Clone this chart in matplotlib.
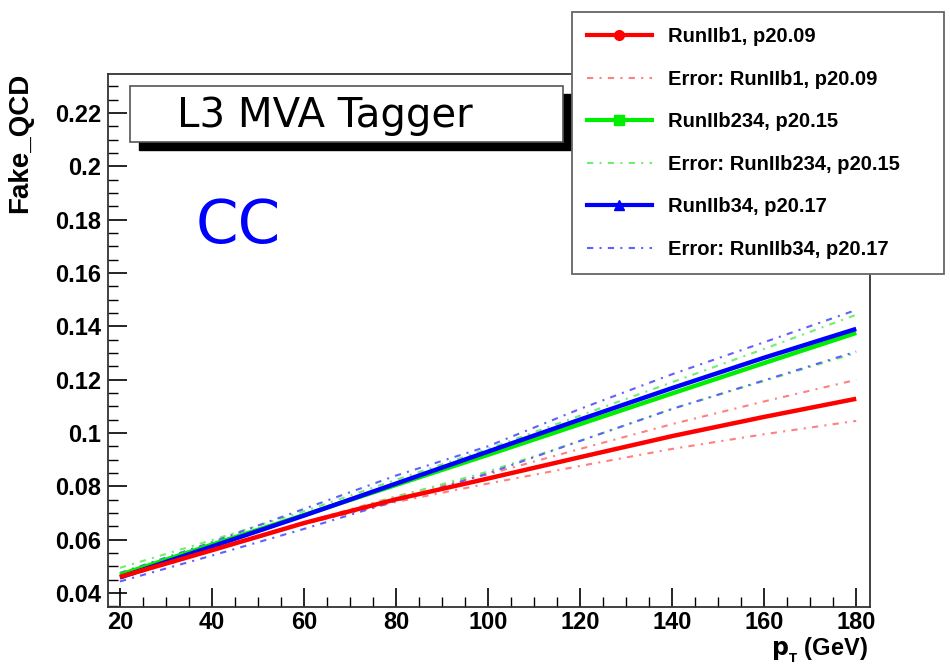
import numpy as np
import matplotlib.pyplot as plt
from matplotlib.lines import Line2D
from matplotlib.patches import Rectangle
from matplotlib.ticker import MultipleLocator

# pT points (GeV)
pt = [20, 40, 60, 80, 100, 120, 140, 160, 180]

# RunIIb1, p20.09
red_fit = [0.0460, 0.0560, 0.0662, 0.0751, 0.0829, 0.0909, 0.0988, 0.1060, 0.1128]
red_up = [0.0455, 0.0558, 0.0664, 0.0762, 0.0845, 0.0940, 0.1033, 0.1118, 0.1199]
red_dn = [0.0466, 0.0562, 0.0658, 0.0741, 0.0810, 0.0876, 0.0940, 0.0995, 0.1045]

# RunIIb234, p20.15
green_fit = [0.0468, 0.0581, 0.0692, 0.0805, 0.0918, 0.1033, 0.1148, 0.1262, 0.1375]
green_up = [0.0494, 0.0598, 0.0706, 0.0824, 0.0940, 0.1065, 0.1190, 0.1315, 0.1443]
green_dn = [0.0455, 0.0558, 0.0660, 0.0760, 0.0855, 0.0970, 0.1090, 0.1195, 0.1300]

# RunIIb34, p20.17
blue_fit = [0.0458, 0.0574, 0.0690, 0.0810, 0.0930, 0.1050, 0.1168, 0.1282, 0.1390]
blue_up = [0.0475, 0.0590, 0.0715, 0.0840, 0.0950, 0.1090, 0.1220, 0.1340, 0.1461]
blue_dn = [0.0443, 0.0540, 0.0640, 0.0745, 0.0848, 0.0970, 0.1090, 0.1197, 0.1305]

labels = ['RunIIb1, p20.09', 'Error: RunIIb1, p20.09',
          'RunIIb234, p20.15', 'Error: RunIIb234, p20.15',
          'RunIIb34, p20.17', 'Error: RunIIb34, p20.17']

plt.rcParams['font.family'] = ['Liberation Sans', 'DejaVu Sans']

fig = plt.figure(figsize=(9.5, 6.64), dpi=100)
ax = fig.add_axes([0.1137, 0.0858, 0.8021, 0.8028])

dash = (0, (3, 3, 1, 3))
series = [
    (red_fit, red_up, red_dn, '#ff0000', '#ff8080', 'o'),
    (green_fit, green_up, green_dn, '#00ee00', '#70ee70', 's'),
    (blue_fit, blue_up, blue_dn, '#0000ff', '#6060ff', '^'),
]
handles = []
# error curves first, then fits: green, blue, red on top
for fit, up, dn, c, ec, m in series:
    ax.plot(pt, up, color=ec, lw=1.5, ls=dash)
    ax.plot(pt, dn, color=ec, lw=1.5, ls=dash)
for fit, up, dn, c, ec, m in [series[1], series[2], series[0]]:
    ax.plot(pt, fit, color=c, lw=3.2, solid_capstyle='butt')
for fit, up, dn, c, ec, m in series:
    handles.append(Line2D([], [], color=c, lw=3, marker=m, markersize=7))
    handles.append(Line2D([], [], color=ec, lw=1.5, ls=dash))

ax.set_xlim(17.4, 183.0)
ax.set_ylim(0.0347, 0.2346)
ax.xaxis.set_major_locator(MultipleLocator(20))
ax.xaxis.set_minor_locator(MultipleLocator(5))
ax.yaxis.set_minor_locator(MultipleLocator(0.005))
ax.tick_params(which='major', direction='in', length=14, width=1.2, labelsize=17, pad=5)
ax.tick_params(axis='x', which='major', pad=3)
ax.tick_params(which='minor', direction='in', length=7, width=1.0)
ax.set_yticks(np.arange(0.04, 0.2201, 0.02))
ax.set_yticklabels(['0.04', '0.06', '0.08', '0.1', '0.12', '0.14', '0.16', '0.18', '0.2', '0.22'])
for lab in ax.get_xticklabels() + ax.get_yticklabels():
    lab.set_fontweight('bold')
for sp in ax.spines.values():
    sp.set_linewidth(1.3)
    sp.set_color('#333333')

fig.text(0.914, 1 - 656 / 664, r'$\mathbf{p_{_T}}$ (GeV)', ha='right', va='baseline',
         fontsize=17, fontweight='bold')
fig.text(0.021, 1 - 73 / 664, 'Fake_QCD', rotation=90, ha='center', va='top',
         fontsize=20, fontweight='bold')

# title box with shadow
fig.patches.append(Rectangle((139 / 950, 1 - 150 / 664), 432 / 950, 56 / 664,
                             transform=fig.transFigure, facecolor='black',
                             edgecolor='black', zorder=5))
fig.patches.append(Rectangle((130 / 950, 1 - 142 / 664), 433 / 950, 56 / 664,
                             transform=fig.transFigure, facecolor='white',
                             edgecolor='#555555', lw=1.2, zorder=6))
fig.text(325 / 950, 1 - 116 / 664, 'L3 MVA Tagger', ha='center', va='center',
         fontsize=29, family='DejaVu Sans', zorder=7)

fig.text(238 / 950, 1 - 226 / 664, 'CC', ha='center', va='center',
         fontsize=44, color='#0000ff', family='DejaVu Sans', zorder=7)

leg = fig.legend(handles, labels, loc='upper left',
                 bbox_to_anchor=(572 / 950, 1 - 273 / 664, 372 / 950, 261 / 664),
                 mode='expand', borderaxespad=0,
                 fancybox=False, framealpha=1, edgecolor='#666666',
                 prop={'size': 14.5, 'weight': 'bold'}, handlelength=3.2,
                 handletextpad=0.8, labelspacing=1.17, borderpad=0.75)
leg.get_frame().set_linewidth(1.3)
leg.set_zorder(10)

fig.savefig('out.png', dpi=100)
